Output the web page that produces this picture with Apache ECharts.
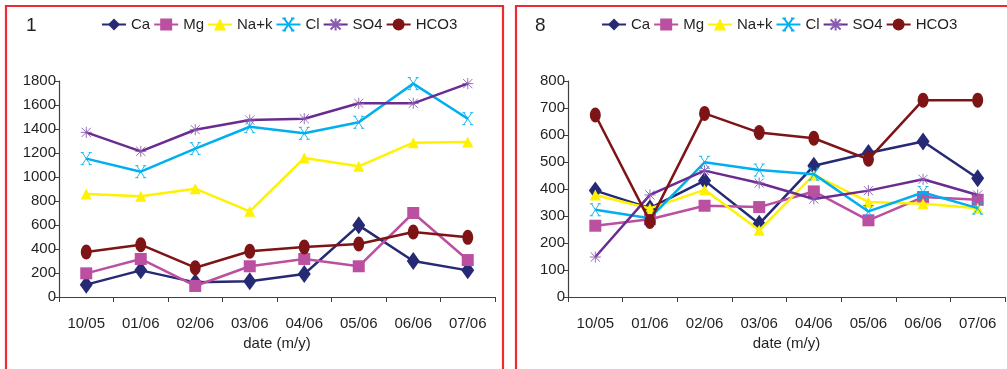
<!DOCTYPE html>
<html>
<head>
<meta charset="utf-8">
<script src="https://cdn.jsdelivr.net/npm/echarts@6/dist/echarts.min.js"></script>
<style>
  html, body { margin: 0; padding: 0; background: #fff; }
  #chart { width: 1007px; height: 369px; }
</style>
</head>
<body>
<div id="chart"></div>
<script>
// Sampling dates (month/year)
const dates = ['10/05', '01/06', '02/06', '03/06', '04/06', '05/06', '06/06', '07/06'];
const ionNames = ['Ca', 'Mg', 'Na+k', 'Cl', 'SO4', 'HCO3'];

// Site 1 concentrations
const site1Ca   = [103, 222, 122, 131, 192, 597, 300, 222];
const site1Mg   = [197, 317, 92, 256, 317, 256, 700, 308];
const site1NaK  = [858, 839, 903, 714, 1158, 1089, 1286, 1292];
const site1Cl   = [1153, 1044, 1236, 1419, 1364, 1456, 1778, 1486];
const site1SO4  = [1372, 1214, 1394, 1475, 1486, 1614, 1614, 1778];
const site1HCO3 = [375, 436, 244, 381, 417, 442, 542, 497];

// Site 8 concentrations
const site8Ca   = [394, 329, 431, 271, 486, 533, 576, 440];
const site8Mg   = [264, 288, 338, 333, 391, 284, 370, 360];
const site8NaK  = [378, 328, 397, 247, 452, 352, 345, 329];
const site8Cl   = [323, 292, 499, 470, 455, 317, 387, 329];
const site8SO4  = [148, 378, 468, 422, 363, 394, 436, 378];
const site8HCO3 = [674, 280, 680, 609, 588, 510, 729, 729];

// Axis ticks
const site1Ticks = { min: 0, max: 1800, interval: 200 };
const site8Ticks = { min: 0, max: 800, interval: 100 };

const colors = {
  'Ca': '#262a74', 'Mg': '#bb4fa0', 'Na+k': '#fff200',
  'Cl': '#00b0ee', 'SO4': '#6a2c91', 'HCO3': '#7e1416'
};
const markerColors = {
  'Ca': '#262a74', 'Mg': '#bb4fa0', 'Na+k': '#fff200',
  'Cl': '#00b0ee', 'SO4': '#8a5cb0', 'HCO3': '#7e1416'
};
const symbols = {
  'Ca':  { symbol: 'diamond', size: [13, 18], stroke: 0 },
  'Mg':  { symbol: 'rect', size: 12, stroke: 0 },
  'Na+k':{ symbol: 'triangle', size: 11, stroke: 0 },
  'Cl':  { symbol: 'path://M0,0L10,12M10,0L0,12M-2,0L2,0M8,0L12,0M-2,12L2,12M8,12L12,12', size: [11, 12], stroke: 0.9 },
  'SO4': { symbol: 'path://M0,0L10,10M10,0L0,10M5,-1L5,11M-1,5L11,5', size: 11, stroke: 0.9 },
  'HCO3':{ symbol: 'circle', size: [11, 15], stroke: 0 }
};

const font = 'Liberation Sans, Arial, sans-serif';
const axisGray = '#3f3f3f';
const textColor = '#231f20';

function makeSeries(values, gridIdx) {
  return ionNames.map((name, i) => {
    const s = symbols[name];
    return {
      name: name,
      type: 'line',
      xAxisIndex: gridIdx,
      yAxisIndex: gridIdx,
      data: values[i],
      symbol: s.symbol,
      symbolSize: s.size,
      showAllSymbol: true,
      lineStyle: { color: colors[name], width: 2.5 },
      itemStyle: {
        color: markerColors[name],
        borderColor: markerColors[name],
        borderWidth: s.stroke
      },
      emphasis: { disabled: true },
      animation: false,
      z: 2 + i
    };
  });
}

function makeLegend(left) {
  return {
    left: left, top: 17, padding: 0,
    itemWidth: 24, itemHeight: 15, itemGap: 3,
    data: ionNames,
    textStyle: { fontFamily: font, fontSize: 15, color: textColor },
    selectedMode: false
  };
}

function makeXAxis(gridIdx) {
  return {
    type: 'category', gridIndex: gridIdx, data: dates, boundaryGap: true,
    axisLine: { lineStyle: { color: axisGray, width: 1.2 } },
    axisTick: { show: true, length: 5, interval: 0, lineStyle: { color: axisGray } },
    axisLabel: { fontFamily: font, fontSize: 15, color: textColor, margin: 19, interval: 0 },
    name: 'date (m/y)', nameLocation: 'middle', nameGap: 33,
    nameTextStyle: { fontFamily: font, fontSize: 15, color: textColor }
  };
}

function makeYAxis(gridIdx, t) {
  return {
    type: 'value', gridIndex: gridIdx, min: t.min, max: t.max, interval: t.interval,
    axisLine: { show: true, lineStyle: { color: axisGray, width: 1.2 } },
    axisTick: { show: true, length: 5, lineStyle: { color: axisGray } },
    axisLabel: { fontFamily: font, fontSize: 15, color: textColor, margin: 3,
                 formatter: (v) => String(v) },
    splitLine: { show: false }
  };
}

const chart = echarts.init(document.getElementById('chart'), null, { renderer: 'canvas' });
chart.setOption({
  animation: false,
  backgroundColor: '#ffffff',
  graphic: [
    { type: 'rect', shape: { x: 6, y: 6, width: 497, height: 400 },
      style: { fill: 'none', stroke: '#ee2a30', lineWidth: 2.2 }, silent: true },
    { type: 'rect', shape: { x: 516, y: 6, width: 520, height: 400 },
      style: { fill: 'none', stroke: '#ee2a30', lineWidth: 2.2 }, silent: true },
    { type: 'text', left: 26, top: 16,
      style: { text: '1', fontFamily: font, fontSize: 19, fill: textColor } },
    { type: 'text', left: 535, top: 16,
      style: { text: '8', fontFamily: font, fontSize: 19, fill: textColor } }
  ],
  legend: [makeLegend(101), makeLegend(601)],
  grid: [
    { left: 59, right: 512, top: 81, bottom: 72, containLabel: false },
    { left: 568, right: 2, top: 81, bottom: 72, containLabel: false }
  ],
  xAxis: [makeXAxis(0), makeXAxis(1)],
  yAxis: [makeYAxis(0, site1Ticks), makeYAxis(1, site8Ticks)],
  series: [
    ...makeSeries([site1Ca, site1Mg, site1NaK, site1Cl, site1SO4, site1HCO3], 0),
    ...makeSeries([site8Ca, site8Mg, site8NaK, site8Cl, site8SO4, site8HCO3], 1)
  ]
});
</script>
</body>
</html>
